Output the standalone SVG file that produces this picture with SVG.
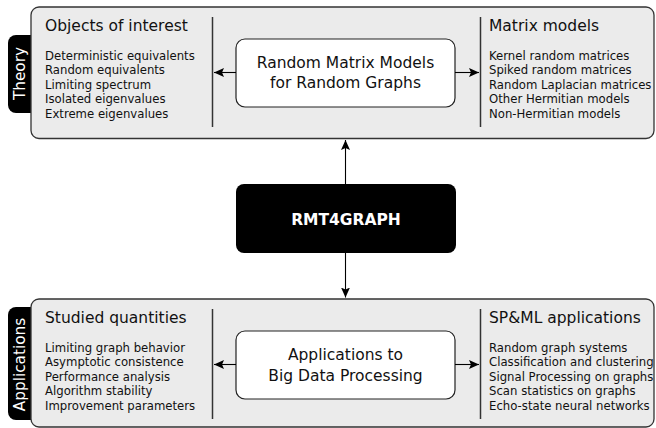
<svg xmlns="http://www.w3.org/2000/svg" width="656" height="428" viewBox="0 0 656 428">
<defs>
<style>
text{font-family:"DejaVu Sans","Liberation Sans",sans-serif;fill:#111}
.panel{fill:#ebebeb;stroke:#333;stroke-width:1.3}
.tab{fill:#000}
.tabt{fill:#fff;font-size:15.3px}
.hdr{font-size:15.5px}
.item{font-size:11.7px}
.box{fill:#fff;stroke:#222;stroke-width:1.2}
.boxt{font-size:15.5px;text-anchor:middle}
.div{stroke:#333;stroke-width:1.5}
.conn{stroke:#000;stroke-width:1.1;fill:none}
</style>
<marker id="ah" markerUnits="userSpaceOnUse" markerWidth="11" markerHeight="9" refX="10" refY="4.5" orient="auto" viewBox="0 0 11 9">
<path d="M0,0 L10,4.5 L0,9 L2,4.5 z" fill="#000"/>
</marker>
</defs>

<g id="theory">
<rect class="tab" x="8" y="35" width="40" height="78" rx="8"/>
<rect class="panel" x="31" y="7" width="623" height="131.5" rx="8"/>
<text class="tabt" transform="translate(24.5,73.5) rotate(-90)" text-anchor="middle">Theory</text>
<line class="div" x1="212.5" y1="17" x2="212.5" y2="127"/>
<line class="div" x1="480.5" y1="17" x2="480.5" y2="127"/>
<text class="hdr" x="45" y="30.5">Objects of interest</text>
<text class="item" x="45" y="59.5">Deterministic equivalents</text>
<text class="item" x="45" y="74">Random equivalents</text>
<text class="item" x="45" y="88.5">Limiting spectrum</text>
<text class="item" x="45" y="103">Isolated eigenvalues</text>
<text class="item" x="45" y="117.5">Extreme eigenvalues</text>
<text class="hdr" x="489" y="30.5">Matrix models</text>
<text class="item" x="489" y="59.5">Kernel random matrices</text>
<text class="item" x="489" y="74">Spiked random matrices</text>
<text class="item" x="489" y="88.5">Random Laplacian matrices</text>
<text class="item" x="489" y="103">Other Hermitian models</text>
<text class="item" x="489" y="117.5">Non-Hermitian models</text>
</g>

<g id="rmmrg">
<rect class="box" x="236" y="39" width="219" height="68" rx="9"/>
<text class="boxt" x="345.5" y="67.7">Random Matrix Models</text>
<text class="boxt" x="345.5" y="88">for Random Graphs</text>
</g>

<g id="applications">
<rect class="tab" x="8" y="307" width="40" height="113" rx="8"/>
<rect class="panel" x="31" y="299" width="623" height="128" rx="8"/>
<text class="tabt" transform="translate(24.5,364.5) rotate(-90)" text-anchor="middle">Applications</text>
<line class="div" x1="212.5" y1="309" x2="212.5" y2="419"/>
<line class="div" x1="480.5" y1="309" x2="480.5" y2="419"/>
<text class="hdr" x="45" y="322.8">Studied quantities</text>
<text class="item" x="45" y="351.5">Limiting graph behavior</text>
<text class="item" x="45" y="366">Asymptotic consistence</text>
<text class="item" x="45" y="380.5">Performance analysis</text>
<text class="item" x="45" y="395">Algorithm stability</text>
<text class="item" x="45" y="409.5">Improvement parameters</text>
<text class="hdr" x="489" y="322.8">SP&amp;ML applications</text>
<text class="item" x="489" y="351.5">Random graph systems</text>
<text class="item" x="489" y="366">Classification and clustering</text>
<text class="item" x="489" y="380.5">Signal Processing on graphs</text>
<text class="item" x="489" y="395">Scan statistics on graphs</text>
<text class="item" x="489" y="409.5">Echo-state neural networks</text>
</g>

<g id="abdp">
<rect class="box" x="236" y="331" width="219" height="68" rx="9"/>
<text class="boxt" x="345.5" y="360">Applications to</text>
<text class="boxt" x="345.5" y="380.5">Big Data Processing</text>
</g>

<g id="rmt4graph">
<rect x="236" y="184" width="220" height="69" rx="8" fill="#000"/>
<text x="346" y="225" text-anchor="middle" style="fill:#fff;font-weight:bold;font-size:15.5px">RMT4GRAPH</text>
</g>

<g id="connectors">
<line class="conn" x1="236" y1="72.5" x2="214" y2="72.5" marker-end="url(#ah)"/>
<line class="conn" x1="455" y1="72.5" x2="479" y2="72.5" marker-end="url(#ah)"/>
<line class="conn" x1="236" y1="364.5" x2="214" y2="364.5" marker-end="url(#ah)"/>
<line class="conn" x1="455" y1="364.5" x2="479" y2="364.5" marker-end="url(#ah)"/>
<line class="conn" x1="345.5" y1="184" x2="345.5" y2="140" marker-end="url(#ah)"/>
<line class="conn" x1="345.5" y1="253" x2="345.5" y2="297.5" marker-end="url(#ah)"/>
</g>
</svg>
